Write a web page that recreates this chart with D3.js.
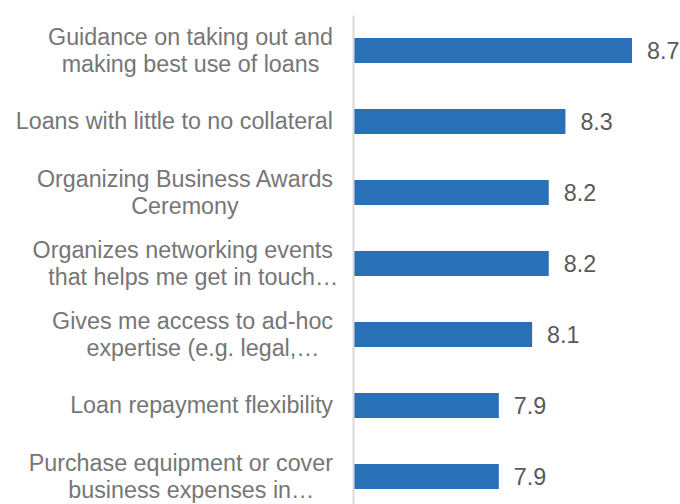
<!DOCTYPE html>
<html>
<head>
<meta charset="utf-8">
<script src="https://cdn.jsdelivr.net/npm/d3@7/dist/d3.min.js"></script>
<style>
  html, body { margin: 0; padding: 0; background: #ffffff; }
  svg { display: block; font-family: "Liberation Sans", Arial, sans-serif; }
</style>
</head>
<body>
<svg id="chart" width="680" height="504"></svg>
<script>
// Category labels (each entry is the list of wrapped lines)
const categories = [
  ["Guidance on taking out and", "making best use of loans"],
  ["Loans with little to no collateral"],
  ["Organizing Business Awards", "Ceremony"],
  ["Organizes networking events", "that helps me get in touch…"],
  ["Gives me access to ad-hoc", "expertise (e.g. legal,…"],
  ["Loan repayment flexibility"],
  ["Purchase equipment or cover", "business expenses in…"]
];
const scores = [8.7, 8.3, 8.2, 8.2, 8.1, 7.9, 7.9];
const axisMin = 7.03;

const svg = d3.select("#chart");
const plotLeft = 354, plotRight = 632;
const keys = categories.map(c => c.join(" "));

const y = d3.scaleBand()
  .domain(keys)
  .range([15, 512])
  .paddingInner(0.648)
  .paddingOuter(0.324);

const x = d3.scaleLinear()
  .domain([axisMin, d3.max(scores)])
  .range([plotLeft, plotRight]);

const fontSize = 23.3;
const capShift = 8.3;

// bars
svg.append("g").selectAll("rect")
  .data(scores)
  .join("rect")
  .attr("x", x(axisMin))
  .attr("y", (d, i) => y(keys[i]))
  .attr("width", d => x(d) - x(axisMin))
  .attr("height", y.bandwidth())
  .attr("fill", "#2a70b7");

// vertical category axis line
const axis = svg.append("g")
  .attr("transform", `translate(${plotLeft - 1},0)`)
  .call(d3.axisLeft(y).tickSize(0).tickFormat(""));
axis.select(".domain").attr("stroke", "#d9d9d9").attr("stroke-width", 2);

// value labels
svg.append("g").selectAll("text")
  .data(scores)
  .join("text")
  .attr("x", d => x(d) + 15)
  .attr("y", (d, i) => y(keys[i]) + y.bandwidth() / 2 + capShift)
  .attr("font-size", fontSize)
  .attr("fill", "#595959")
  .text(d => d3.format(".1f")(d));

// category labels: centered block, right edge aligned near the axis
const labelRight = 333;
const lineHeight = 27;
const labels = svg.append("g");
categories.forEach((lines, i) => {
  const cy = y(keys[i]) + y.bandwidth() / 2;
  const g = labels.append("g");
  const n = lines.length;
  const texts = lines.map((ln, j) => g.append("text")
    .attr("font-size", fontSize)
    .attr("fill", "#767676")
    .attr("text-anchor", "middle")
    .attr("y", cy + capShift - 0.5 + (j - (n - 1) / 2) * lineHeight)
    .text(ln));
  const widths = texts.map(t => t.node().getComputedTextLength());
  const blockW = d3.max(widths);
  const cx = labelRight - blockW / 2;
  texts.forEach((t, j) => {
    const shift = lines[j].endsWith("…") && widths[j] < blockW ? 10.5 : 0;
    t.attr("x", cx + shift);
  });
});
</script>
</body>
</html>
